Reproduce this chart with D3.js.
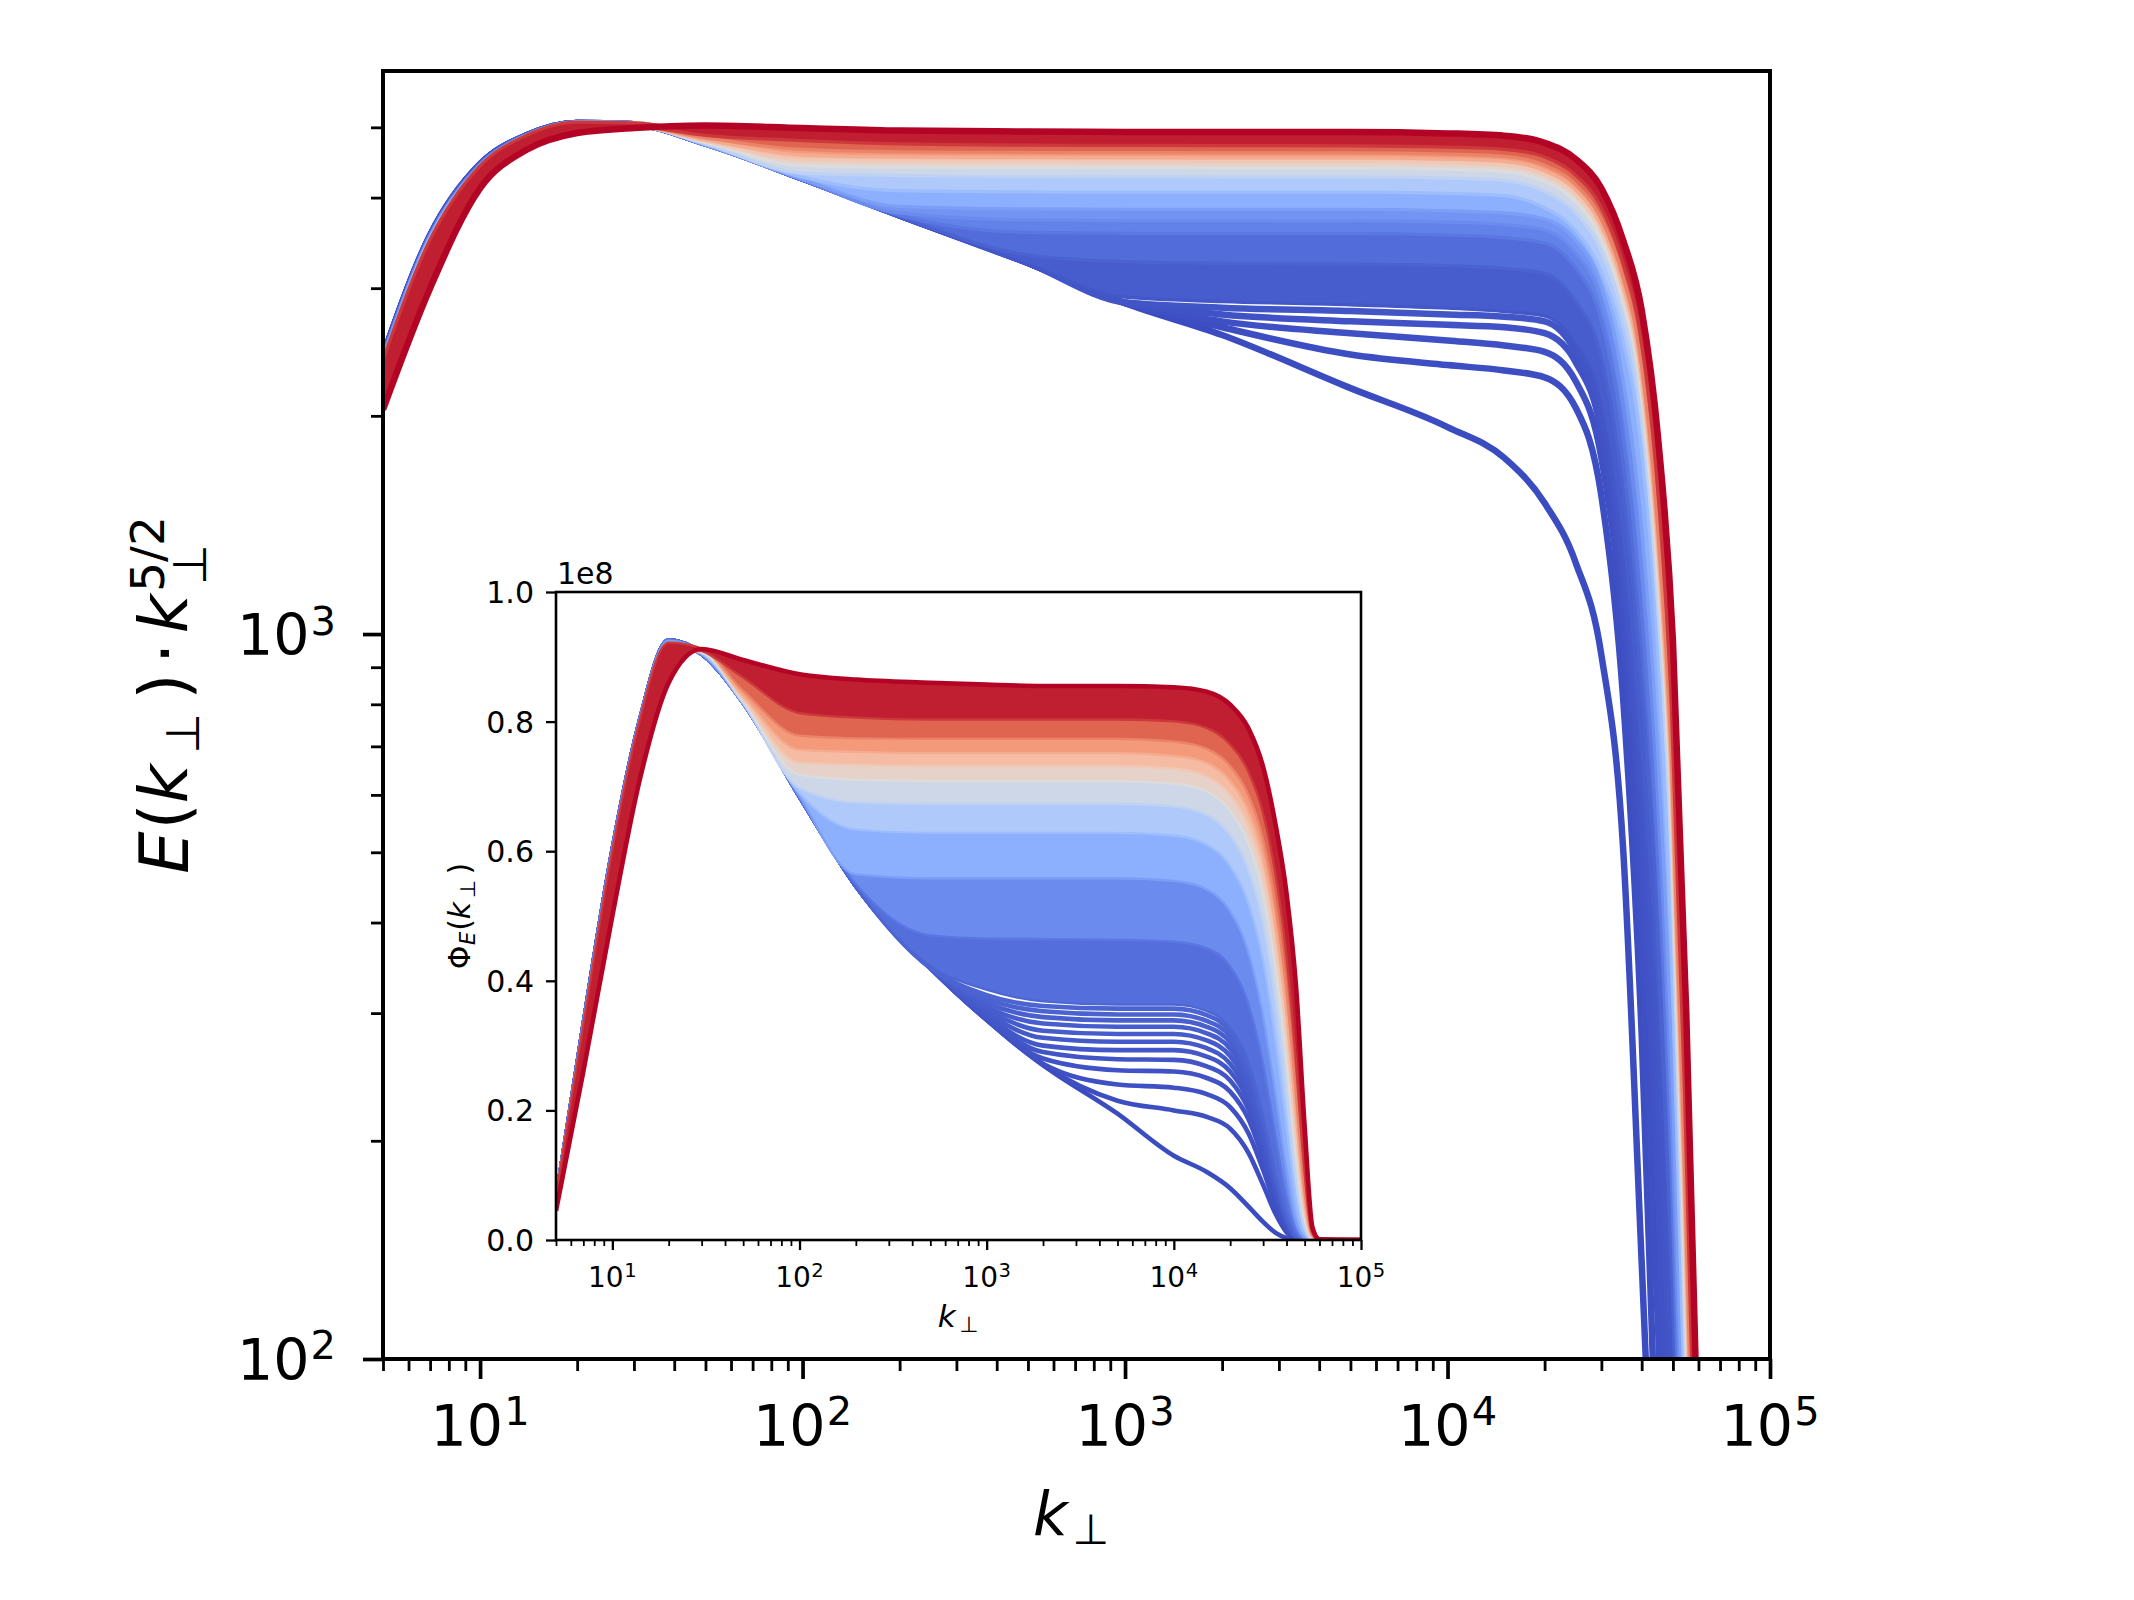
<!DOCTYPE html>
<html>
<head>
<meta charset="utf-8">
<script src="https://cdn.jsdelivr.net/npm/d3@7"></script>
<style>
  html, body { margin: 0; padding: 0; background: #ffffff; }
  svg { display: block; }
  svg text { font-family: "DejaVu Sans", sans-serif; }
</style>
</head>
<body>
<div id="chart"></div>
<script>
// ---- data ----
const kGrid = [5, 7, 10, 14, 20, 30, 50, 100, 200, 500, 1000, 2000, 5000, 10000, 15000,
               20000, 25000, 30000, 35000, 40000, 45000, 50000, 55000, 60000, 100000];

// colour position (0 = first spectrum, 1 = last) of every main-panel spectrum
const mainLevels = [0, 0.005, 0.01, 0.015, 0.02, 0.025, 0.05, 0.1, 0.15, 0.2, 0.3, 0.4, 0.5, 0.6, 0.7, 0.8, 0.93, 1.0];
// E(k) * k^(5/2), one row per spectrum, values at kGrid
const mainSpectra = [
  [2420, 3550, 4450, 4880, 5070, 5050, 4750, 4250, 3780, 3250, 2860, 2585, 2184, 1930, 1750, 1516, 1253, 936, 510, 136, 40, 15, 5, 2, 1],
  [2420, 3550, 4450, 4880, 5070, 5050, 4750, 4250, 3780, 3250, 2860, 2650, 2430, 2350, 2310, 2260, 2050, 1550, 820, 280, 60, 18, 6, 2, 1],
  [2418, 3548, 4448, 4879, 5069, 5050, 4750, 4250, 3780, 3250, 2862, 2700, 2600, 2540, 2500, 2450, 2230, 1750, 1000, 380, 110, 25, 7, 2, 1],
  [2416, 3546, 4446, 4878, 5069, 5050, 4750, 4250, 3780, 3250, 2865, 2760, 2700, 2670, 2650, 2600, 2370, 1900, 1120, 480, 170, 45, 8, 2, 1],
  [2414, 3544, 4444, 4877, 5068, 5050, 4750, 4250, 3780, 3250, 2868, 2820, 2790, 2760, 2740, 2700, 2450, 2000, 1220, 560, 230, 70, 10, 2, 1],
  [2410, 3540, 4440, 4875, 5068, 5050, 4750, 4250, 3780, 3252, 2930, 2890, 2860, 2830, 2800, 2760, 2530, 2100, 1320, 650, 300, 100, 25, 5, 1],
  [2400, 3530, 4430, 4870, 5065, 5050, 4750, 4250, 3782, 3350, 3280, 3262, 3255, 3240, 3210, 3160, 2900, 2450, 1650, 900, 420, 140, 35, 7, 1],
  [2390, 3520, 4420, 4865, 5062, 5050, 4752, 4252, 3800, 3600, 3590, 3586, 3585, 3570, 3540, 3480, 3220, 2750, 1950, 1130, 530, 180, 45, 9, 1],
  [2380, 3510, 4410, 4860, 5060, 5050, 4753, 4255, 3830, 3745, 3738, 3736, 3735, 3720, 3690, 3630, 3380, 2930, 2150, 1300, 630, 220, 55, 11, 1],
  [2370, 3500, 4400, 4855, 5058, 5050, 4755, 4262, 3910, 3878, 3874, 3873, 3872, 3856, 3829, 3760, 3520, 3070, 2320, 1480, 740, 270, 65, 13, 1],
  [2350, 3480, 4390, 4850, 5055, 5050, 4760, 4290, 4110, 4094, 4091, 4090, 4090, 4074, 4045, 3895, 3629, 3197, 2599, 1869, 1013, 374, 83, 21, 1],
  [2330, 3460, 4380, 4845, 5052, 5048, 4770, 4345, 4312, 4300, 4298, 4296, 4296, 4279, 4248, 4104, 3838, 3411, 2809, 2076, 1151, 488, 109, 26, 1],
  [2310, 3430, 4370, 4840, 5050, 5046, 4790, 4450, 4430, 4425, 4422, 4420, 4420, 4402, 4371, 4236, 3976, 3545, 2935, 2208, 1265, 556, 130, 31, 1],
  [2290, 3400, 4360, 4835, 5048, 5044, 4810, 4535, 4515, 4510, 4508, 4506, 4506, 4488, 4456, 4323, 4063, 3633, 3020, 2288, 1336, 595, 146, 35, 1],
  [2270, 3370, 4350, 4830, 5045, 5042, 4830, 4605, 4575, 4568, 4565, 4563, 4563, 4545, 4512, 4382, 4123, 3697, 3085, 2353, 1399, 630, 162, 37, 1],
  [2250, 3340, 4340, 4825, 5042, 5040, 4860, 4685, 4650, 4640, 4638, 4636, 4636, 4617, 4584, 4457, 4198, 3775, 3163, 2429, 1468, 678, 179, 42, 1],
  [2350, 3460, 4390, 4852, 5058, 5046, 4900, 4820, 4770, 4750, 4745, 4742, 4740, 4720, 4688, 4575, 4321, 3917, 3301, 2598, 1655, 799, 231, 53, 1],
  [2040, 3000, 4120, 4660, 4910, 4990, 5030, 4990, 4950, 4935, 4928, 4925, 4925, 4905, 4870, 4760, 4520, 4120, 3500, 2800, 1860, 980, 300, 70, 1]
];
const mainDenseFrom = 5;   // spectra from this index on are packed into a continuous band

// inset: Phi_E(k) in units of 1e8
const insetLevels = [0, 0.005, 0.01, 0.015, 0.02, 0.025, 0.03, 0.035, 0.04, 0.045, 0.05, 0.055,
                     0.06, 0.1, 0.2, 0.3, 0.4, 0.5, 0.6, 0.7, 0.8, 0.93, 1.0];
const insetSpectra = [
  [0.06, 0.33, 0.60, 0.80, 0.925, 0.905, 0.83, 0.685, 0.547, 0.42, 0.34, 0.27, 0.195, 0.13, 0.105, 0.08, 0.052, 0.028, 0.011, 0.003, 0, 0, 0, 0, 0],
  [0.06, 0.33, 0.60, 0.80, 0.925, 0.905, 0.83, 0.685, 0.547, 0.42, 0.34, 0.27, 0.215, 0.20, 0.19, 0.172, 0.135, 0.085, 0.04, 0.012, 0.001, 0, 0, 0, 0],
  [0.06, 0.33, 0.60, 0.80, 0.925, 0.905, 0.83, 0.685, 0.547, 0.42, 0.34, 0.272, 0.24, 0.235, 0.225, 0.205, 0.165, 0.108, 0.053, 0.017, 0.002, 0, 0, 0, 0],
  [0.06, 0.33, 0.60, 0.80, 0.925, 0.905, 0.83, 0.685, 0.547, 0.42, 0.34, 0.28, 0.262, 0.26, 0.25, 0.229, 0.187, 0.125, 0.063, 0.021, 0.003, 0, 0, 0, 0],
  [0.06, 0.33, 0.60, 0.80, 0.925, 0.905, 0.83, 0.685, 0.547, 0.42, 0.342, 0.29, 0.279, 0.278, 0.268, 0.246, 0.202, 0.137, 0.07, 0.024, 0.004, 0, 0, 0, 0],
  [0.06, 0.33, 0.60, 0.80, 0.925, 0.905, 0.83, 0.685, 0.547, 0.42, 0.345, 0.30, 0.293, 0.293, 0.283, 0.26, 0.215, 0.147, 0.076, 0.027, 0.004, 0, 0, 0, 0],
  [0.06, 0.33, 0.60, 0.80, 0.925, 0.905, 0.83, 0.685, 0.547, 0.42, 0.35, 0.312, 0.306, 0.306, 0.296, 0.272, 0.226, 0.156, 0.082, 0.029, 0.005, 0, 0, 0, 0],
  [0.06, 0.33, 0.60, 0.80, 0.925, 0.905, 0.83, 0.685, 0.547, 0.42, 0.355, 0.323, 0.318, 0.318, 0.308, 0.284, 0.237, 0.164, 0.087, 0.031, 0.005, 0, 0, 0, 0],
  [0.06, 0.33, 0.60, 0.80, 0.925, 0.905, 0.83, 0.685, 0.547, 0.42, 0.36, 0.334, 0.329, 0.329, 0.319, 0.295, 0.247, 0.172, 0.092, 0.034, 0.006, 0, 0, 0, 0],
  [0.06, 0.33, 0.60, 0.80, 0.925, 0.905, 0.83, 0.685, 0.547, 0.42, 0.366, 0.344, 0.339, 0.339, 0.329, 0.305, 0.256, 0.18, 0.097, 0.036, 0.006, 0, 0, 0, 0],
  [0.06, 0.33, 0.60, 0.80, 0.925, 0.905, 0.83, 0.685, 0.547, 0.42, 0.372, 0.353, 0.348, 0.348, 0.338, 0.314, 0.265, 0.187, 0.102, 0.038, 0.007, 0, 0, 0, 0],
  [0.06, 0.33, 0.60, 0.80, 0.925, 0.905, 0.83, 0.685, 0.547, 0.42, 0.378, 0.361, 0.357, 0.357, 0.347, 0.322, 0.273, 0.194, 0.107, 0.04, 0.007, 0, 0, 0, 0],
  [0.06, 0.33, 0.60, 0.80, 0.925, 0.905, 0.83, 0.685, 0.547, 0.425, 0.388, 0.37, 0.365, 0.365, 0.355, 0.33, 0.28, 0.20, 0.111, 0.042, 0.008, 0, 0, 0, 0],
  [0.06, 0.33, 0.60, 0.80, 0.925, 0.905, 0.83, 0.685, 0.552, 0.472, 0.467, 0.466, 0.465, 0.462, 0.452, 0.425, 0.37, 0.28, 0.17, 0.075, 0.018, 0.002, 0, 0, 0],
  [0.059, 0.325, 0.595, 0.797, 0.923, 0.906, 0.83, 0.688, 0.566, 0.56, 0.56, 0.56, 0.56, 0.556, 0.543, 0.51, 0.45, 0.355, 0.235, 0.12, 0.035, 0.005, 0, 0, 0],
  [0.058, 0.32, 0.59, 0.793, 0.92, 0.907, 0.831, 0.692, 0.635, 0.63, 0.63, 0.63, 0.63, 0.626, 0.612, 0.58, 0.525, 0.44, 0.32, 0.19, 0.072, 0.013, 0.001, 0, 0],
  [0.057, 0.315, 0.585, 0.79, 0.917, 0.908, 0.832, 0.70, 0.677, 0.675, 0.675, 0.675, 0.675, 0.671, 0.658, 0.628, 0.577, 0.497, 0.38, 0.245, 0.105, 0.024, 0.002, 0, 0],
  [0.056, 0.31, 0.58, 0.786, 0.914, 0.909, 0.834, 0.72, 0.712, 0.71, 0.71, 0.71, 0.71, 0.706, 0.694, 0.665, 0.617, 0.542, 0.43, 0.295, 0.145, 0.04, 0.004, 0, 0],
  [0.055, 0.305, 0.575, 0.782, 0.911, 0.91, 0.837, 0.738, 0.735, 0.733, 0.733, 0.733, 0.733, 0.729, 0.717, 0.689, 0.643, 0.571, 0.464, 0.331, 0.176, 0.054, 0.006, 0, 0],
  [0.054, 0.30, 0.57, 0.778, 0.908, 0.91, 0.842, 0.758, 0.755, 0.753, 0.753, 0.753, 0.753, 0.749, 0.738, 0.711, 0.666, 0.597, 0.494, 0.364, 0.206, 0.07, 0.008, 0, 0],
  [0.053, 0.295, 0.565, 0.774, 0.905, 0.911, 0.85, 0.78, 0.776, 0.775, 0.775, 0.775, 0.775, 0.771, 0.76, 0.734, 0.691, 0.625, 0.527, 0.4, 0.242, 0.088, 0.011, 0, 0],
  [0.058, 0.322, 0.592, 0.795, 0.92, 0.911, 0.87, 0.815, 0.808, 0.805, 0.805, 0.805, 0.805, 0.802, 0.792, 0.767, 0.727, 0.665, 0.573, 0.455, 0.296, 0.123, 0.016, 0.001, 0],
  [0.045, 0.26, 0.50, 0.71, 0.86, 0.912, 0.895, 0.873, 0.865, 0.86, 0.857, 0.855, 0.855, 0.853, 0.846, 0.826, 0.79, 0.73, 0.64, 0.535, 0.39, 0.175, 0.02, 0.001, 0]
];
const insetDenseFrom = 12;

const xTickExponents = [1, 2, 3, 4, 5];
const mainYTickExponents = [2, 3];
const insetYTicks = [0, 0.2, 0.4, 0.6, 0.8, 1.0];

// ---- style ----
const W = 2134, H = 1600;
const mainBox = { left: 383, right: 1770, top: 71, bottom: 1359 };
const insetBox = { left: 556, right: 1361, top: 592, bottom: 1240 };
const coolwarmStops = ["#3b4cc0", "#6282ea", "#8db0fe", "#b8d0f9", "#dddcdc", "#f5c4ad", "#f49a7b", "#de604d", "#b40426"];
const coolwarm = d3.scaleLinear()
    .domain(coolwarmStops.map((c, i) => i / (coolwarmStops.length - 1)))
    .range(coolwarmStops)
    .interpolate(d3.interpolateRgb);

const svg = d3.select("#chart").append("svg")
    .attr("width", W).attr("height", H)
    .attr("xmlns", "http://www.w3.org/2000/svg");
svg.append("rect").attr("width", W).attr("height", H).attr("fill", "#ffffff");

const defs = svg.append("defs");
[["clipMain", mainBox], ["clipInset", insetBox]].forEach(([id, b]) => {
    defs.append("clipPath").attr("id", id).append("rect")
        .attr("x", b.left).attr("y", b.top)
        .attr("width", b.right - b.left).attr("height", b.bottom - b.top);
});

const xMain = d3.scaleLog().domain([5, 1e5]).range([mainBox.left, mainBox.right]);
const yMain = d3.scaleLog().domain([100, 5980]).range([mainBox.bottom, mainBox.top]);
const xInset = d3.scaleLog().domain([5, 1e5]).range([insetBox.left, insetBox.right]);
const yInset = d3.scaleLinear().domain([0, 1]).range([insetBox.bottom, insetBox.top]);

// small mathtext-like layout: runs of text placed one after another
function mathText(parent, runs, o) {
    const g = parent.append("g")
        .attr("transform", `translate(${o.x},${o.y}) rotate(${o.rotate || 0})`);
    let cursor = 0, runStart = 0;
    const items = [];
    runs.forEach(r => {
        const t = g.append("text")
            .attr("font-size", o.size * (r.scale || 1))
            .attr("font-style", r.italic ? "italic" : "normal")
            .attr("fill", "#000")
            .text(r.text);
        const w = t.node().getComputedTextLength();
        const x0 = (r.stack ? runStart : cursor) + (r.gap || 0) * o.size;
        if (!r.stack) runStart = x0;
        t.attr("x", x0).attr("y", (r.dy || 0) * o.size);
        cursor = Math.max(cursor, x0 + w);
        items.push(t);
    });
    const shift = o.anchor === "end" ? -cursor : o.anchor === "middle" ? -cursor / 2 : 0;
    items.forEach(t => t.attr("x", +t.attr("x") + shift));
    return g;
}
const powerRuns = e => [{ text: "10" }, { text: String(e), scale: 0.7, dy: -0.36, gap: 0.02 }];

function drawFamily(g, levels, spectra, x, y, denseFrom, lw) {
    const pts = s => s.map((v, i) => [x(kGrid[i]), y(v)]);
    const line = d3.line().curve(d3.curveMonotoneX);
    spectra.forEach((s, i) => {
        const upper = pts(s);
        if (i > denseFrom) {
            const lower = pts(spectra[i - 1]);
            const area = d3.area()
                .x(d => d[0]).y0((d, j) => lower[j][1]).y1(d => d[1])
                .curve(d3.curveMonotoneX);
            g.append("path").attr("d", area(upper))
                .attr("fill", coolwarm((levels[i - 1] + levels[i]) / 2));
        }
        g.append("path").attr("d", line(upper))
            .attr("fill", "none")
            .attr("stroke", coolwarm(levels[i]))
            .attr("stroke-width", lw)
            .attr("stroke-linejoin", "round");
    });
}

function minorLogTicks(lo, hi) {
    const out = [];
    for (let d = 0; d <= 5; d++) for (let m = 2; m <= 9; m++) {
        const v = m * Math.pow(10, d);
        if (v >= lo && v <= hi) out.push(v);
    }
    return out;
}

function styleAxis(sel, w) {
    sel.select(".domain").remove();
    sel.selectAll("line").attr("stroke", "#000").attr("stroke-width", w);
    sel.selectAll("text").remove();
}

// ---- main panel ----
const mainCurves = svg.append("g").attr("clip-path", "url(#clipMain)");
drawFamily(mainCurves, mainLevels, mainSpectra, xMain, yMain, mainDenseFrom, 6.5);

svg.append("g").attr("transform", `translate(0,${mainBox.bottom})`)
    .call(d3.axisBottom(xMain).tickValues(minorLogTicks(5, 1e5)).tickSize(12).tickFormat(""))
    .call(s => styleAxis(s, 2.8));
svg.append("g").attr("transform", `translate(0,${mainBox.bottom})`)
    .call(d3.axisBottom(xMain).tickValues(xTickExponents.map(e => Math.pow(10, e))).tickSize(20).tickFormat(""))
    .call(s => styleAxis(s, 3.7));
svg.append("g").attr("transform", `translate(${mainBox.left},0)`)
    .call(d3.axisLeft(yMain).tickValues(minorLogTicks(100, 5980).filter(v => v > 100)).tickSize(12).tickFormat(""))
    .call(s => styleAxis(s, 2.8));
svg.append("g").attr("transform", `translate(${mainBox.left},0)`)
    .call(d3.axisLeft(yMain).tickValues(mainYTickExponents.map(e => Math.pow(10, e))).tickSize(20).tickFormat(""))
    .call(s => styleAxis(s, 3.7));

svg.append("rect")
    .attr("x", mainBox.left).attr("y", mainBox.top)
    .attr("width", mainBox.right - mainBox.left).attr("height", mainBox.bottom - mainBox.top)
    .attr("fill", "none").attr("stroke", "#000").attr("stroke-width", 4);

xTickExponents.forEach(e => mathText(svg, powerRuns(e),
    { x: xMain(Math.pow(10, e)), y: 1446, size: 57, anchor: "middle" }));
mainYTickExponents.forEach(e => mathText(svg, powerRuns(e),
    { x: 336, y: yMain(Math.pow(10, e)) + 21, size: 57, anchor: "end" }));

mathText(svg, [{ text: "k", italic: true }, { text: "⊥", scale: 0.7, dy: 0.15, gap: 0.08 }],
    { x: 1071, y: 1535, size: 60, anchor: "middle" });
mathText(svg, [
    { text: "E", italic: true }, { text: "(", gap: 0.03 }, { text: "k", italic: true },
    { text: "⊥", scale: 0.7, dy: 0.16, gap: 0.16 }, { text: ")", gap: 0.2 },
    { text: "·", gap: 0.14 }, { text: "k", italic: true, gap: 0.14 },
    { text: "5/2", scale: 0.7, dy: -0.36, gap: 0.04 }, { text: "⊥", scale: 0.7, dy: 0.27, gap: 0.1, stack: true }
], { x: 188, y: 695, size: 67, anchor: "middle", rotate: -90 });

// ---- inset ----
svg.append("rect")
    .attr("x", insetBox.left).attr("y", insetBox.top)
    .attr("width", insetBox.right - insetBox.left).attr("height", insetBox.bottom - insetBox.top)
    .attr("fill", "#ffffff");
const insetCurves = svg.append("g").attr("clip-path", "url(#clipInset)");
drawFamily(insetCurves, insetLevels, insetSpectra, xInset, yInset, insetDenseFrom, 4.6);

svg.append("g").attr("transform", `translate(0,${insetBox.bottom})`)
    .call(d3.axisBottom(xInset).tickValues(minorLogTicks(5, 1e5)).tickSize(6).tickFormat(""))
    .call(s => styleAxis(s, 1.8));
svg.append("g").attr("transform", `translate(0,${insetBox.bottom})`)
    .call(d3.axisBottom(xInset).tickValues(xTickExponents.map(e => Math.pow(10, e))).tickSize(10).tickFormat(""))
    .call(s => styleAxis(s, 2.3));
svg.append("g").attr("transform", `translate(${insetBox.left},0)`)
    .call(d3.axisLeft(yInset).tickValues(insetYTicks).tickSize(10).tickFormat(""))
    .call(s => styleAxis(s, 2.3));

svg.append("rect")
    .attr("x", insetBox.left).attr("y", insetBox.top)
    .attr("width", insetBox.right - insetBox.left).attr("height", insetBox.bottom - insetBox.top)
    .attr("fill", "none").attr("stroke", "#000").attr("stroke-width", 2.6);

xTickExponents.forEach(e => mathText(svg, powerRuns(e),
    { x: xInset(Math.pow(10, e)), y: 1287, size: 28, anchor: "middle" }));
insetYTicks.forEach(v => svg.append("text")
    .attr("x", 534).attr("y", yInset(v) + 11)
    .attr("text-anchor", "end").attr("font-size", 30).attr("fill", "#000")
    .text(d3.format(".1f")(v)));
svg.append("text").attr("x", 557).attr("y", 584)
    .attr("font-size", 30).attr("fill", "#000").text("1e8");

mathText(svg, [{ text: "k", italic: true }, { text: "⊥", scale: 0.7, dy: 0.15, gap: 0.12 }],
    { x: 958, y: 1327, size: 31, anchor: "middle" });
mathText(svg, [
    { text: "Φ" }, { text: "E", italic: true, scale: 0.7, dy: 0.16, gap: 0.02 },
    { text: "(", gap: 0.03 }, { text: "k", italic: true },
    { text: "⊥", scale: 0.7, dy: 0.16, gap: 0.12 }, { text: ")", gap: 0.18 }
], { x: 470, y: 916, size: 30, anchor: "middle", rotate: -90 });
</script>
</body>
</html>
